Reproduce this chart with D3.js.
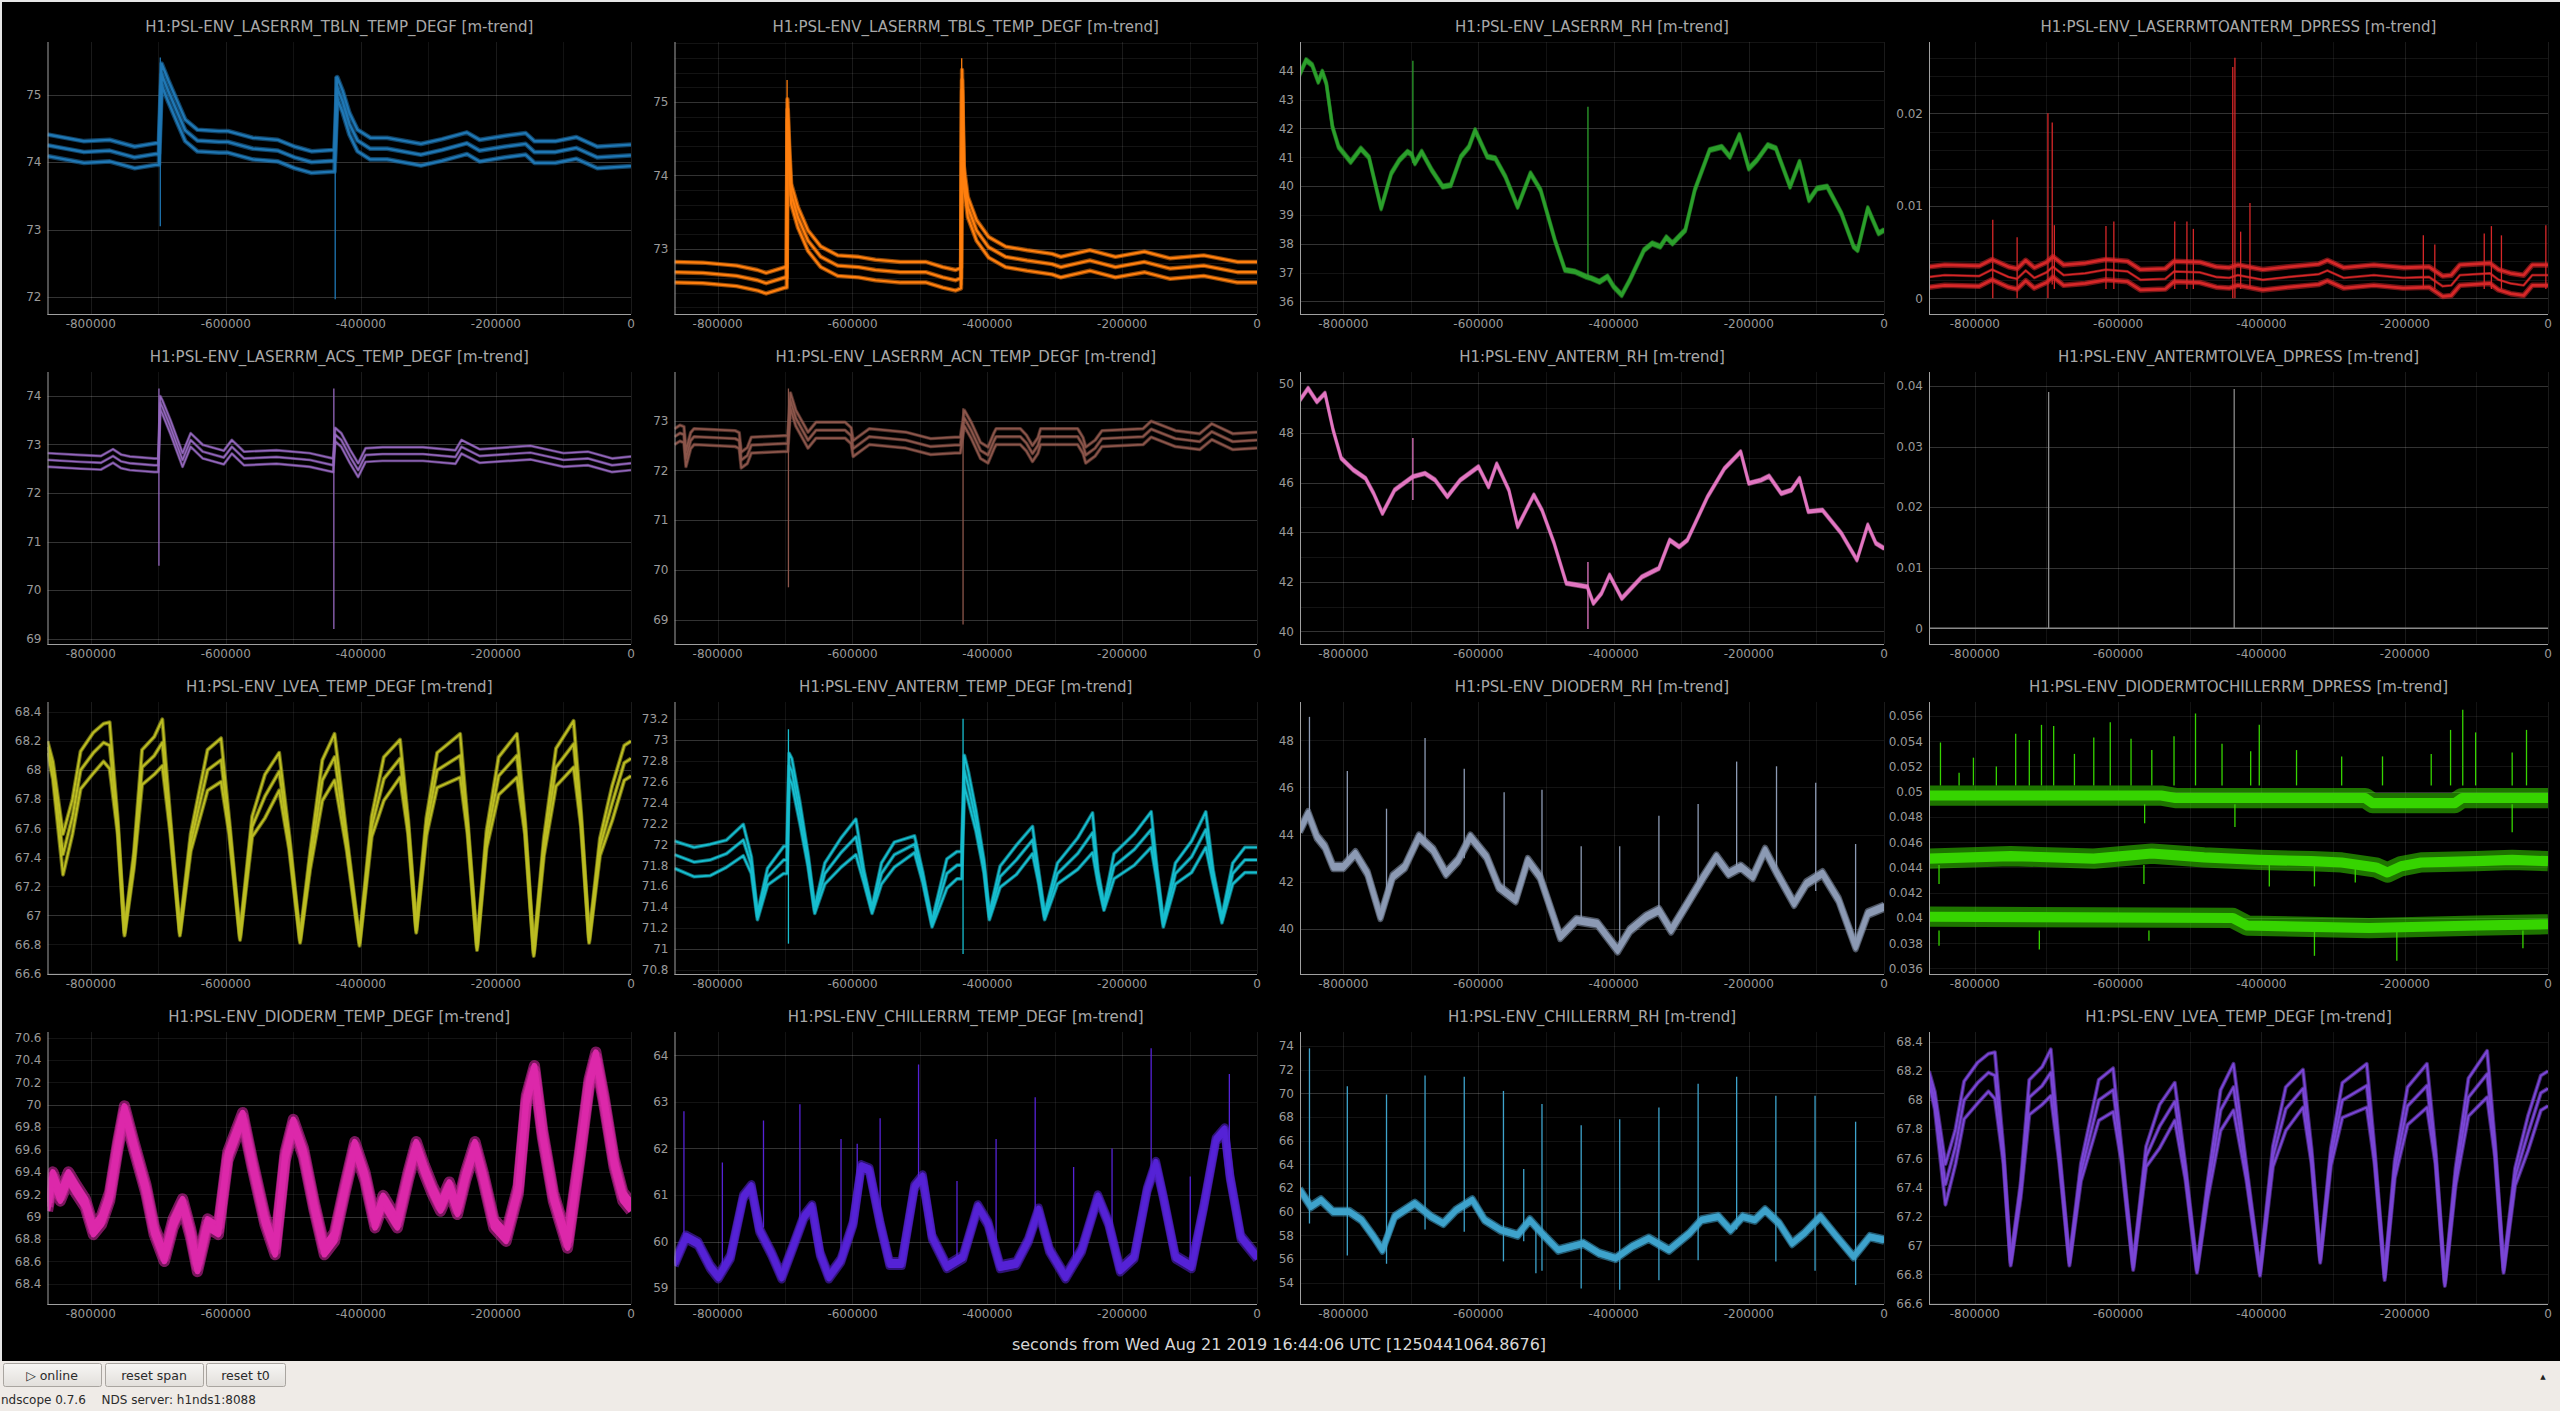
<!DOCTYPE html>
<html><head><meta charset="utf-8">
<script src="https://cdn.jsdelivr.net/npm/d3@7"></script>
<style>
html,body{margin:0;padding:0;background:#000;overflow:hidden;}
svg{display:block;font-family:"DejaVu Sans",sans-serif;}
</style></head><body>
<svg id="c" width="2560" height="1411"></svg>
<script>
// ---------------- DATA (time in kiloseconds relative to t0) ----------------
const X_DOMAIN = [-864000, 0];
const xTickLabels = [-800000, -600000, -400000, -200000, 0];
const xAxisLabel = "seconds from Wed Aug 21 2019 16:44:06 UTC [1250441064.8676]";

const titles = [
  "H1:PSL-ENV_LASERRM_TBLN_TEMP_DEGF [m-trend]",
  "H1:PSL-ENV_LASERRM_TBLS_TEMP_DEGF [m-trend]",
  "H1:PSL-ENV_LASERRM_RH [m-trend]",
  "H1:PSL-ENV_LASERRMTOANTERM_DPRESS [m-trend]",
  "H1:PSL-ENV_LASERRM_ACS_TEMP_DEGF [m-trend]",
  "H1:PSL-ENV_LASERRM_ACN_TEMP_DEGF [m-trend]",
  "H1:PSL-ENV_ANTERM_RH [m-trend]",
  "H1:PSL-ENV_ANTERMTOLVEA_DPRESS [m-trend]",
  "H1:PSL-ENV_LVEA_TEMP_DEGF [m-trend]",
  "H1:PSL-ENV_ANTERM_TEMP_DEGF [m-trend]",
  "H1:PSL-ENV_DIODERM_RH [m-trend]",
  "H1:PSL-ENV_DIODERMTOCHILLERRM_DPRESS [m-trend]",
  "H1:PSL-ENV_DIODERM_TEMP_DEGF [m-trend]",
  "H1:PSL-ENV_CHILLERRM_TEMP_DEGF [m-trend]",
  "H1:PSL-ENV_CHILLERRM_RH [m-trend]",
  "H1:PSL-ENV_LVEA_TEMP_DEGF [m-trend]"
];

const yDomains = [
  [71.75, 75.78], [72.11, 75.82], [35.56, 45.0], [-0.0017, 0.0277],
  [68.89, 74.49], [68.51, 73.98], [39.49, 50.46], [-0.0026, 0.0423],
  [66.595, 68.47], [70.76, 73.36], [38.08, 49.63], [0.03556, 0.05711],
  [68.22, 70.65], [58.66, 64.50], [52.2, 75.18], [66.595, 68.47]
];

const yTickLabels = [
  [72, 73, 74, 75],
  [73, 74, 75],
  [36, 37, 38, 39, 40, 41, 42, 43, 44],
  [0, 0.01, 0.02],
  [69, 70, 71, 72, 73, 74],
  [69, 70, 71, 72, 73],
  [40, 42, 44, 46, 48, 50],
  [0, 0.01, 0.02, 0.03, 0.04],
  [66.6, 66.8, 67, 67.2, 67.4, 67.6, 67.8, 68, 68.2, 68.4],
  [70.8, 71, 71.2, 71.4, 71.6, 71.8, 72, 72.2, 72.4, 72.6, 72.8, 73, 73.2],
  [40, 42, 44, 46, 48],
  [0.036, 0.038, 0.04, 0.042, 0.044, 0.046, 0.048, 0.05, 0.052, 0.054, 0.056],
  [68.4, 68.6, 68.8, 69, 69.2, 69.4, 69.6, 69.8, 70, 70.2, 70.4, 70.6],
  [59, 60, 61, 62, 63, 64],
  [54, 56, 58, 60, 62, 64, 66, 68, 70, 72, 74],
  [66.6, 66.8, 67, 67.2, 67.4, 67.6, 67.8, 68, 68.2, 68.4]
];

// mean traces [t_ks, mean] or [t_ks, mean, half-spread between min/max and mean]
const tblnMean = [[-864,74.25],[-810,74.15],[-772,74.17],[-735,74.07],[-704,74.12],[-699,74.12],[-695,75.3],[-685,75.05],[-673,74.77],[-660,74.47],[-642,74.32],[-610,74.3],[-597,74.3],[-560,74.2],[-523,74.17],[-498,74.07],[-473,74.0],[-442,74.02],[-439,74.02],[-435,75.1],[-427,74.9],[-417,74.57],[-405,74.32],[-386,74.2],[-361,74.2],[-311,74.11],[-280,74.18],[-243,74.28],[-224,74.17],[-187,74.23],[-156,74.27],[-143,74.15],[-112,74.15],[-81,74.21],[-50,74.07],[0,74.1]];
const tblsMean = [[-864,72.68],[-822,72.67],[-772,72.63],[-741,72.57],[-728,72.53],[-700,72.61],[-697.5,72.61],[-696.5,74.9],[-694,74.3],[-691,73.75],[-681,73.43],[-666,73.11],[-647,72.89],[-622,72.77],[-591,72.75],[-566,72.71],[-529,72.68],[-491,72.68],[-466,72.61],[-447,72.57],[-439,72.6],[-437.5,75.3],[-435,74.0],[-429,73.57],[-416,73.25],[-398,73.02],[-373,72.89],[-341,72.84],[-304,72.79],[-291,72.75],[-248,72.84],[-210,72.75],[-167,72.82],[-129,72.73],[-79,72.77],[-29,72.68],[0,72.68]];
const laserRh = [[-865,43.85],[-855,44.37],[-846,44.2],[-837,43.62],[-831,43.97],[-825,43.56],[-816,42.06],[-807,41.36],[-789,40.84],[-774,41.3],[-762,41.0],[-744,39.23],[-729,40.44],[-717,40.9],[-705,41.19],[-699,41.1],[-694,40.79],[-684,41.19],[-669,40.55],[-653,39.98],[-641,40.03],[-626,41.02],[-614,41.36],[-605,41.94],[-587,41.02],[-575,40.96],[-560,40.32],[-542,39.28],[-523,40.44],[-508,39.86],[-487,38.13],[-472,37.09],[-457,37.03],[-441,36.86],[-433,36.8],[-421,36.68],[-409,36.86],[-400,36.51],[-388,36.22],[-376,36.74],[-355,37.78],[-343,38.01],[-331,37.9],[-322,38.22],[-313,38.01],[-294,38.47],[-280,39.86],[-258,41.25],[-240,41.36],[-228,41.02],[-214,41.77],[-200,40.61],[-188,40.9],[-172,41.42],[-160,41.31],[-139,39.98],[-125,40.84],[-111,39.51],[-99,39.92],[-84,39.98],[-63,39.05],[-45,37.9],[-39,37.78],[-24,39.23],[-8,38.36],[0,38.47]];
const laserToAntDp = [[-864,0.0023],[-842,0.0025],[-794,0.0024],[-776,0.0031],[-753,0.0023],[-741,0.0021],[-729,0.003],[-717,0.0022],[-700,0.0028],[-691,0.0034],[-676,0.0025],[-646,0.0027],[-617,0.0031],[-587,0.0029],[-569,0.002],[-534,0.0021],[-522,0.0029],[-486,0.0028],[-463,0.0023],[-445,0.0022],[-433,0.0025],[-398,0.002],[-362,0.0023],[-320,0.0026],[-308,0.003],[-285,0.0022],[-243,0.0025],[-202,0.0022],[-166,0.0023],[-147,0.0013],[-135,0.0014],[-123,0.0025],[-81,0.0027],[-69,0.002],[-52,0.0016],[-34,0.0014],[-22,0.0025],[0,0.0025]];
const acsMean = [[-864,72.68],[-815,72.64],[-785,72.62],[-767,72.76],[-755,72.65],[-742,72.61],[-706,72.57],[-700,72.57],[-697,73.85],[-694,73.77],[-682,73.36],[-664,72.68],[-652,73.09],[-634,72.85],[-603,72.73],[-591,72.95],[-573,72.71],[-525,72.74],[-476,72.68],[-441,72.57],[-438,73.2],[-429,73.09],[-416,72.75],[-404,72.47],[-393,72.78],[-368,72.8],[-308,72.8],[-260,72.74],[-251,72.95],[-224,72.76],[-149,72.83],[-100,72.68],[-64,72.71],[-28,72.57],[0,72.61]];
const acnMean = [[-864,72.68],[-856,72.75],[-850,72.72],[-847,72.24],[-840,72.6],[-835,72.68],[-774,72.64],[-768,72.6],[-765,72.21],[-756,72.3],[-750,72.51],[-702,72.54],[-696,72.54],[-692,73.4],[-684,73.05],[-666,72.61],[-654,72.81],[-611,72.81],[-602,72.7],[-599,72.44],[-588,72.55],[-575,72.68],[-521,72.61],[-484,72.48],[-448,72.51],[-440,72.51],[-434,73.05],[-424,72.81],[-410,72.4],[-399,72.31],[-390,72.6],[-387,72.68],[-351,72.68],[-342,72.55],[-333,72.34],[-325,72.5],[-321,72.68],[-266,72.68],[-258,72.5],[-254,72.31],[-240,72.45],[-230,72.64],[-169,72.68],[-157,72.83],[-121,72.64],[-85,72.58],[-67,72.78],[-36,72.58],[0,72.61]];
const antRh = [[-864,49.33],[-852,49.8],[-839,49.26],[-827,49.6],[-815,48.12],[-803,46.98],[-785,46.51],[-767,46.17],[-755,45.56],[-742,44.76],[-724,45.7],[-697,46.24],[-679,46.37],[-664,46.1],[-646,45.43],[-627,46.1],[-600,46.64],[-585,45.83],[-573,46.75],[-555,45.7],[-542,44.22],[-518,45.5],[-506,44.89],[-488,43.55],[-470,41.94],[-439,41.8],[-430,41.13],[-418,41.53],[-406,42.27],[-388,41.33],[-358,42.2],[-333,42.54],[-317,43.68],[-303,43.41],[-291,43.68],[-261,45.43],[-236,46.57],[-212,47.24],[-200,45.97],[-182,46.1],[-170,46.26],[-152,45.56],[-137,45.7],[-125,46.17],[-112,44.83],[-91,44.89],[-63,43.95],[-40,42.88],[-24,44.29],[-12,43.55],[0,43.35]];
const antToLveaDp = [[-864,0],[0,0]];
const lveaTemp = [[-864,68.16,0.04],[-856,68.0,0.06],[-841,67.42,0.14],[-827,67.68,0.12],[-815,68.0,0.13],[-796,68.12,0.14],[-781,68.19,0.13],[-772,68.17,0.16],[-760,67.61,0.05],[-750,66.88,0.02],[-736,67.38,0.05],[-724,68.02,0.12],[-706,68.1,0.13],[-694,68.19,0.16],[-682,67.61,0.05],[-668,66.88,0.02],[-652,67.5,0.06],[-627,68.0,0.14],[-607,68.07,0.15],[-595,67.61,0.05],[-579,66.85,0.02],[-561,67.61,0.07],[-542,67.82,0.15],[-521,67.99,0.13],[-506,67.5,0.05],[-490,66.83,0.02],[-475,67.38,0.06],[-457,67.93,0.14],[-439,68.09,0.16],[-421,67.5,0.05],[-402,66.81,0.02],[-384,67.61,0.07],[-366,67.94,0.15],[-342,68.08,0.13],[-330,67.61,0.05],[-318,66.9,0.02],[-303,67.61,0.06],[-287,68.0,0.12],[-253,68.1,0.15],[-242,67.61,0.05],[-228,66.78,0.02],[-214,67.52,0.06],[-196,67.96,0.13],[-169,68.1,0.15],[-157,67.61,0.05],[-144,66.74,0.02],[-129,67.47,0.06],[-111,68.02,0.13],[-85,68.18,0.16],[-74,67.66,0.05],[-62,66.83,0.02],[-46,67.47,0.06],[-28,67.77,0.12],[-10,68.05,0.12],[0,68.08,0.12]];
const antTemp = [[-864,71.9,0.13],[-835,71.83,0.14],[-811,71.85,0.15],[-787,71.91,0.13],[-762,72.04,0.15],[-750,71.8,0.08],[-741,71.31,0.03],[-726,71.69,0.08],[-702,71.85,0.13],[-697,71.85,0.13],[-694,72.75,0.12],[-690,72.7,0.12],[-678,72.3,0.1],[-666,71.85,0.06],[-656,71.37,0.03],[-641,71.72,0.1],[-617,71.92,0.14],[-595,72.07,0.17],[-583,71.69,0.06],[-571,71.37,0.03],[-557,71.72,0.1],[-538,71.9,0.12],[-508,72.0,0.08],[-496,71.69,0.05],[-482,71.24,0.03],[-460,71.72,0.14],[-445,71.8,0.13],[-438,71.8,0.13],[-434,72.7,0.15],[-428,72.55,0.14],[-417,72.23,0.1],[-405,71.79,0.06],[-397,71.31,0.03],[-381,71.69,0.1],[-357,71.85,0.14],[-333,72.04,0.13],[-324,71.69,0.06],[-315,71.31,0.03],[-296,71.72,0.1],[-266,71.91,0.15],[-244,72.11,0.19],[-236,71.69,0.06],[-227,71.4,0.03],[-212,71.79,0.12],[-182,71.95,0.15],[-157,72.14,0.17],[-148,71.69,0.06],[-139,71.24,0.03],[-121,71.72,0.1],[-97,71.88,0.15],[-76,72.14,0.17],[-65,71.69,0.06],[-52,71.28,0.03],[-36,71.72,0.1],[-18,71.85,0.12],[0,71.85,0.12]];
const dioRh = [[-864,44.19],[-852,44.9],[-839,43.91],[-827,43.48],[-815,42.63],[-800,42.63],[-782,43.2],[-764,42.35],[-745,40.51],[-727,42.21],[-709,42.63],[-688,43.91],[-667,43.34],[-648,42.35],[-630,42.91],[-612,43.91],[-588,43.06],[-570,41.78],[-545,41.22],[-527,42.91],[-509,42.21],[-479,39.66],[-455,40.37],[-424,40.22],[-394,39.09],[-376,39.94],[-352,40.51],[-333,40.79],[-315,39.94],[-291,41.07],[-267,42.21],[-248,43.06],[-230,42.35],[-212,42.63],[-194,42.21],[-176,43.34],[-158,42.35],[-133,41.07],[-115,41.92],[-91,42.35],[-67,41.22],[-42,39.23],[-24,40.65],[0,40.93]];
const dioToChillMean = [[-864,0.0447],[-750,0.0449],[-634,0.0447],[-553,0.0451],[-480,0.0448],[-403,0.0446],[-330,0.0445],[-288,0.0444],[-240,0.0440],[-224,0.0436],[-205,0.0441],[-177,0.0444],[-100,0.0445],[-50,0.0446],[0,0.0445]];
const dioToChillMax = [[-864,0.0497],[-540,0.0497],[-520,0.0495],[-255,0.0495],[-245,0.0491],[-130,0.0491],[-120,0.0495],[0,0.0495]];
const dioToChillMin = [[-864,0.0401],[-440,0.0400],[-420,0.0394],[-250,0.0392],[-100,0.0394],[0,0.0395]];
const dioTemp = [[-864,69.09],[-856,69.36],[-845,69.18],[-833,69.36],[-821,69.24],[-808,69.12],[-796,68.88],[-784,68.97],[-772,69.18],[-760,69.63],[-750,69.95],[-736,69.63],[-718,69.24],[-706,68.88],[-691,68.64],[-678,68.94],[-664,69.12],[-652,68.85],[-642,68.55],[-627,68.94],[-611,68.88],[-597,69.54],[-575,69.89],[-561,69.48],[-542,68.97],[-527,68.7],[-512,69.54],[-500,69.83],[-485,69.57],[-469,69.09],[-454,68.7],[-439,68.82],[-424,69.24],[-409,69.63],[-394,69.36],[-379,68.94],[-367,69.15],[-346,68.94],[-330,69.36],[-318,69.63],[-306,69.42],[-294,69.24],[-282,69.09],[-269,69.27],[-257,69.06],[-245,69.36],[-231,69.63],[-219,69.36],[-203,68.94],[-185,68.82],[-167,69.24],[-155,70.04],[-143,70.31],[-131,69.74],[-115,69.18],[-94,68.76],[-76,69.54],[-62,70.19],[-52,70.43],[-40,70.04],[-25,69.48],[-12,69.18],[0,69.09]];
const chillTemp = [[-864,59.53],[-847,60.1],[-829,59.96],[-811,59.46],[-799,59.24],[-781,59.67],[-762,60.96],[-750,61.18],[-738,60.25],[-720,59.74],[-705,59.24],[-690,59.82],[-672,60.53],[-660,60.75],[-648,59.74],[-635,59.24],[-617,59.6],[-599,60.39],[-587,61.61],[-575,61.54],[-559,60.39],[-545,59.53],[-527,59.53],[-508,61.18],[-496,61.39],[-482,60.1],[-460,59.46],[-436,59.67],[-414,60.75],[-399,60.39],[-381,59.46],[-357,59.53],[-339,60.03],[-324,60.68],[-308,59.82],[-284,59.24],[-260,59.82],[-236,60.96],[-220,60.39],[-203,59.39],[-182,59.67],[-163,61.11],[-150,61.68],[-139,60.96],[-121,59.67],[-97,59.46],[-79,60.75],[-61,62.18],[-48,62.4],[-40,61.39],[-24,60.1],[0,59.67]];
const chillRh = [[-864,61.83],[-848,60.42],[-833,60.99],[-815,60.0],[-791,60.0],[-773,59.3],[-755,57.89],[-742,56.76],[-724,59.58],[-694,60.7],[-670,59.58],[-652,59.01],[-633,60.14],[-609,60.99],[-591,59.3],[-567,58.45],[-542,58.03],[-524,59.3],[-506,58.17],[-482,56.76],[-445,57.32],[-421,56.48],[-397,56.06],[-373,57.04],[-348,57.75],[-318,56.76],[-288,58.17],[-270,59.3],[-245,59.58],[-227,58.45],[-209,59.58],[-191,59.3],[-176,60.14],[-155,59.01],[-136,57.32],[-118,58.17],[-94,59.58],[-70,57.89],[-45,56.2],[-33,57.04],[-21,57.89],[0,57.61]];

// thin excursions [t_ks, low, high]
const tblnSpikes = [[-697,73.05,75.55],[-438,71.97,75.27]];
const tblsSpikes = [[-697,72.5,75.3],[-438,72.5,75.6]];
const laserRhSpikes = [[-697,40.8,44.35],[-438,36.9,42.75]];
const laserToAntSpikes = [[-775,0,0.0085],[-741,0,0.0066],[-698,0,0.0200],[-692,0.0015,0.019],[-689,0.001,0.0079],[-617,0.001,0.0078],[-606,0.001,0.0083],[-521,0.001,0.0083],[-504,0.001,0.0083],[-495,0.001,0.0075],[-440,0,0.0250],[-437,0,0.0260],[-429,0.001,0.0072],[-416,0.001,0.0103],[-174,0.001,0.0068],[-158,0.001,0.0058],[-89,0.001,0.0070],[-79,0.001,0.0078],[-65,0.001,0.0068],[-3,0.001,0.0079]];
const acsSpikes = [[-699,70.5,74.15],[-440,69.2,74.15]];
const acnSpikes = [[-695,69.65,73.65],[-436,68.9,73.25]];
const antRhSpikes = [[-697,45.3,47.8],[-438,40.1,42.8]];
const antToLveaSpikes = [[-697,0,0.039],[-438,0,0.0395]];
const lveaSpikes = [];
const antTempSpikes = [[-695,71.05,73.1],[-436,70.95,73.2]];
const dioRhSpikes = [[-850,44.5,49.0],[-794,42.8,46.7],[-736,41.3,45.1],[-679,43.5,48.1],[-621,43.0,46.8],[-562,41.6,45.8],[-506,42.2,45.9],[-448,40.3,43.5],[-391,39.2,43.5],[-333,40.8,44.8],[-275,41.8,45.3],[-218,42.6,47.1],[-159,42.4,46.9],[-101,41.6,46.2],[-42,39.3,43.6]];
const dioToChillSpikes = [[-848,0.0505,0.0539],[-822,0.0505,0.0515],[-802,0.0505,0.0527],[-770,0.0505,0.052],[-743,0.0505,0.0546],[-724,0.0505,0.0541],[-707,0.0505,0.0553],[-690,0.0505,0.0552],[-661,0.0505,0.053],[-634,0.0505,0.0543],[-611,0.0505,0.0555],[-582,0.0505,0.0542],[-553,0.0505,0.0533],[-522,0.0505,0.0544],[-492,0.0505,0.0562],[-455,0.0505,0.0538],[-415,0.0505,0.0532],[-403,0.0505,0.0553],[-351,0.0505,0.0533],[-288,0.0505,0.0528],[-231,0.0505,0.0528],[-163,0.0505,0.053],[-136,0.0505,0.0549],[-119,0.0505,0.0565],[-101,0.0505,0.0547],[-50,0.0505,0.0531],[-30,0.0505,0.0549],
  [-850,0.0378,0.039],[-710,0.0375,0.039],[-557,0.0382,0.039],[-326,0.0370,0.039],[-211,0.0366,0.039],[-35,0.0376,0.039],
  [-850,0.0427,0.0442],[-564,0.0427,0.0442],[-389,0.0425,0.0442],[-326,0.0425,0.0442],[-269,0.0428,0.0442],
  [-563,0.0475,0.049],[-437,0.0472,0.049],[-50,0.0468,0.049]];
const dioTempSpikes = [];
const chillTempSpikes = [[-850,60.0,62.8],[-793,59.3,61.7],[-732,60.3,62.6],[-678,60.4,62.95],[-617,59.6,62.2],[-593,60.9,62.1],[-559,60.4,62.65],[-502,61.2,63.8],[-445,59.6,61.3],[-387,59.6,62.2],[-329,60.3,63.1],[-272,59.6,61.6],[-215,60.0,62.0],[-157,61.4,64.15],[-99,59.5,61.4],[-41,61.3,63.6]];
const chillRhSpikes = [[-850,59.0,73.8],[-794,56.3,70.6],[-736,55.6,69.9],[-679,58.5,71.5],[-621,58.3,71.4],[-563,55.8,70.2],[-533,57.5,63.6],[-515,54.8,58.5],[-506,55.0,69.1],[-448,53.5,67.3],[-391,53.4,67.8],[-333,54.2,68.8],[-275,55.9,70.8],[-218,58.5,71.4],[-160,55.8,69.8],[-102,55.0,69.8],[-42,53.8,67.6]];

// min/max half spread (value units) and visible noise half-width (value units)
const spreads = [0.16, 0.14, 0.05, 0.0011, 0.14, 0.16, 0.05, 0, null, null, 0.1, null, 0.04, 0.05, 0.15, null];
const noise   = [0.035, 0.03, 0.06, 0.0003, 0.03, 0.035, 0.06, 0, 0.014, 0.018, 0.13, 0.0008, 0.05, 0.09, 0.26, 0.014];

// ---------------- STYLE / LAYOUT ----------------
const colors = ["#1f77b4","#ff7f0e","#2ca02c","#d62728","#9467bd","#8c564b","#e377c2","#8a8a8a",
                "#bcbd22","#17becf","#8c9ab4","#36d400","#dc28aa","#5522d6","#3ea3cc","#7a46d6"];
const COLS = [[47.5, 631], [674.5, 1257], [1300, 1884], [1929, 2548]];
const ROWS = [0, 330, 660, 990];

const panels = titles.map((title, i) => ({
  title, color: colors[i], yDomain: yDomains[i], yTicks: yTickLabels[i],
  hw: spreads[i], fuzz: noise[i],
  mean: [tblnMean, tblsMean, laserRh, laserToAntDp, acsMean, acnMean, antRh, antToLveaDp,
         lveaTemp, antTemp, dioRh, dioToChillMean, dioTemp, chillTemp, chillRh, lveaTemp][i],
  spikes: [tblnSpikes, tblsSpikes, laserRhSpikes, laserToAntSpikes, acsSpikes, acnSpikes, antRhSpikes, antToLveaSpikes,
           lveaSpikes, antTempSpikes, dioRhSpikes, dioToChillSpikes, dioTempSpikes, chillTempSpikes, chillRhSpikes, lveaSpikes][i],
  lo: i === 11 ? dioToChillMin : null,
  hi: i === 11 ? dioToChillMax : null,
  meanFuzz: i === 3 ? 0.00015 : null
}));

const svg = d3.select("#c");
svg.append("rect").attr("width", 2560).attr("height", 1411).attr("fill", "#000");
const defs = svg.append("defs");

function tickLevels(minV, maxV, size) {
  const dif = Math.abs(maxV - minV);
  const opt = dif / Math.max(2, Math.log(size));
  const p10 = Math.pow(10, Math.floor(Math.log10(opt)));
  const iv = [1, 2, 10, 20, 100].map(m => m * p10);
  let mi = 0;
  while (iv[mi + 1] <= opt) mi++;
  const levels = [iv[mi + 2], iv[mi + 1]];
  const minSp = Math.min(size / 20, 30);
  if (dif / iv[mi] <= size / minSp) levels.push(iv[mi]);
  return levels;
}
function levelValues(domain, levels) {
  const lo = Math.min(...domain), hi = Math.max(...domain);
  const seen = [], out = [];
  levels.forEach((step, li) => {
    const start = Math.ceil(lo / step - 1e-9);
    for (let k = start; k * step <= hi + 1e-12; k++) {
      const v = +(k * step).toFixed(10);
      if (seen.some(s => Math.abs(s - v) < step * 1e-6)) continue;
      seen.push(v); out.push({v, level: li});
    }
  });
  return out;
}
const fmt = v => String(+v.toFixed(6));

panels.forEach((p, i) => {
  const col = i % 4, row = Math.floor(i / 4);
  const [x0, x1] = COLS[col];
  const yTop = ROWS[row] + 42, yBot = ROWS[row] + 314;
  const x = d3.scaleLinear().domain(X_DOMAIN).range([x0, x1]);
  const y = d3.scaleLinear().domain(p.yDomain).range([yBot, yTop]);
  const g = svg.append("g");

  // grid
  const yl = levelValues(p.yDomain, tickLevels(p.yDomain[0], p.yDomain[1], yBot - yTop));
  g.selectAll(null).data(yl).join("line")
    .attr("x1", x0).attr("x2", x1)
    .attr("y1", d => Math.round(y(d.v)) + 0.5).attr("y2", d => Math.round(y(d.v)) + 0.5)
    .attr("stroke", d => d.level < 2 ? "rgba(255,255,255,0.2)" : "rgba(255,255,255,0.075)")
    .attr("stroke-width", 1);
  const xl = levelValues(X_DOMAIN, tickLevels(X_DOMAIN[0], X_DOMAIN[1], x1 - x0));
  g.selectAll(null).data(xl).join("line")
    .attr("y1", yTop).attr("y2", yBot)
    .attr("x1", d => Math.round(x(d.v)) + 0.5).attr("x2", d => Math.round(x(d.v)) + 0.5)
    .attr("stroke", d => d.level < 2 ? "rgba(255,255,255,0.1)" : "rgba(255,255,255,0.07)")
    .attr("stroke-width", 1);

  // clip
  const cid = "clip" + i;
  defs.append("clipPath").attr("id", cid).append("rect")
    .attr("x", x0).attr("y", yTop).attr("width", x1 - x0).attr("height", yBot - yTop);
  const tg = g.append("g").attr("clip-path", `url(#${cid})`);

  const pxPerUnit = (yBot - yTop) / Math.abs(p.yDomain[1] - p.yDomain[0]);
  const w = f => Math.max(1.3, 2 * f * pxPerUnit);
  const line = d3.line().x(d => x(d[0] * 1000)).y(d => y(d[1]));
  const hwOf = d => (d.length > 2 ? d[2] : p.hw) || 0;
  const loPts = p.lo || p.mean.map(d => [d[0], d[1] - hwOf(d)]);
  const hiPts = p.hi || p.mean.map(d => [d[0], d[1] + hwOf(d)]);
  const meanPts = p.mean.map(d => [d[0], d[1]]);

  const traces = (p.hw === 0) ? [[meanPts, 1.6]] :
    [[loPts, w(p.fuzz)], [hiPts, w(p.fuzz)], [meanPts, w(p.meanFuzz != null ? p.meanFuzz : p.fuzz)]];
  traces.forEach(([pts, sw]) => {
    // outer noisy envelope (semi-transparent) + denser core
    if (sw > 2) {
      tg.append("path").attr("d", line(pts)).attr("fill", "none")
        .attr("stroke", p.color).attr("stroke-width", sw).attr("stroke-opacity", 0.55)
        .attr("stroke-linejoin", "round");
    }
    tg.append("path").attr("d", line(pts)).attr("fill", "none")
      .attr("stroke", p.color).attr("stroke-width", sw > 2 ? Math.max(1.3, sw * 0.5) : sw)
      .attr("stroke-linejoin", "round");
  });
  tg.selectAll(null).data(p.spikes).join("line")
    .attr("x1", d => x(d[0] * 1000)).attr("x2", d => x(d[0] * 1000))
    .attr("y1", d => y(d[1])).attr("y2", d => y(d[2]))
    .attr("stroke", p.color).attr("stroke-width", 1.3);

  // axes
  g.append("line").attr("x1", x0 + 0.5).attr("x2", x0 + 0.5).attr("y1", yTop).attr("y2", yBot + 1)
    .attr("stroke", "#a0a0a0").attr("stroke-width", 1);
  g.append("line").attr("x1", x0).attr("x2", x1).attr("y1", yBot + 0.5).attr("y2", yBot + 0.5)
    .attr("stroke", "#a0a0a0").attr("stroke-width", 1);

  g.selectAll(null).data(p.yTicks).join("text")
    .attr("x", x0 - 6).attr("y", d => y(d) + 4.3)
    .attr("text-anchor", "end").attr("font-size", 12).attr("fill", "#9a9a9a")
    .text(fmt);
  g.selectAll(null).data(xTickLabels).join("text")
    .attr("x", d => x(d)).attr("y", yBot + 14)
    .attr("text-anchor", "middle").attr("font-size", 12).attr("fill", "#9a9a9a")
    .text(fmt);

  g.append("text").attr("x", (x0 + x1) / 2).attr("y", ROWS[row] + 32)
    .attr("text-anchor", "middle").attr("font-size", 15).attr("fill", "#a8a8a8")
    .text(p.title);
});

// common x label
svg.append("text").attr("x", 1279).attr("y", 1349.5).attr("text-anchor", "middle")
  .attr("font-size", 16).attr("fill", "#d6d6d6").text(xAxisLabel);

// window frame edges
svg.append("rect").attr("x", 0).attr("y", 0).attr("width", 2560).attr("height", 2).attr("fill", "#e6e6e6");
svg.append("rect").attr("x", 0).attr("y", 0).attr("width", 2).attr("height", 1361).attr("fill", "#e6e6e6");

// toolbar
svg.append("rect").attr("x", 0).attr("y", 1361).attr("width", 2560).attr("height", 50).attr("fill", "#efebe7");
const grad = defs.append("linearGradient").attr("id", "btn").attr("x1", 0).attr("x2", 0).attr("y1", 0).attr("y2", 1);
grad.append("stop").attr("offset", 0).attr("stop-color", "#f7f6f4");
grad.append("stop").attr("offset", 1).attr("stop-color", "#e2dfdb");
const buttons = [["\u25B7 online", 3, 101], ["reset span", 105, 203], ["reset t0", 206, 285]];
buttons.forEach(([label, bx0, bx1]) => {
  svg.append("rect").attr("x", bx0 + 0.5).attr("y", 1363.5).attr("width", bx1 - bx0).attr("height", 23)
    .attr("rx", 2).attr("fill", "url(#btn)").attr("stroke", "#a9a5a0");
  svg.append("text").attr("x", (bx0 + bx1) / 2).attr("y", 1379.5).attr("text-anchor", "middle")
    .attr("font-size", 12.5).attr("fill", "#2a2a2a").text(label);
});
svg.append("text").attr("x", 1).attr("y", 1404).attr("font-size", 12).attr("fill", "#2a2a2a")
  .text("ndscope 0.7.6\u2003 NDS server: h1nds1:8088");
svg.append("text").attr("x", 2543).attr("y", 1379).attr("text-anchor", "middle").attr("font-size", 7)
  .attr("fill", "#222").text("\u25B2");
</script></body></html>
